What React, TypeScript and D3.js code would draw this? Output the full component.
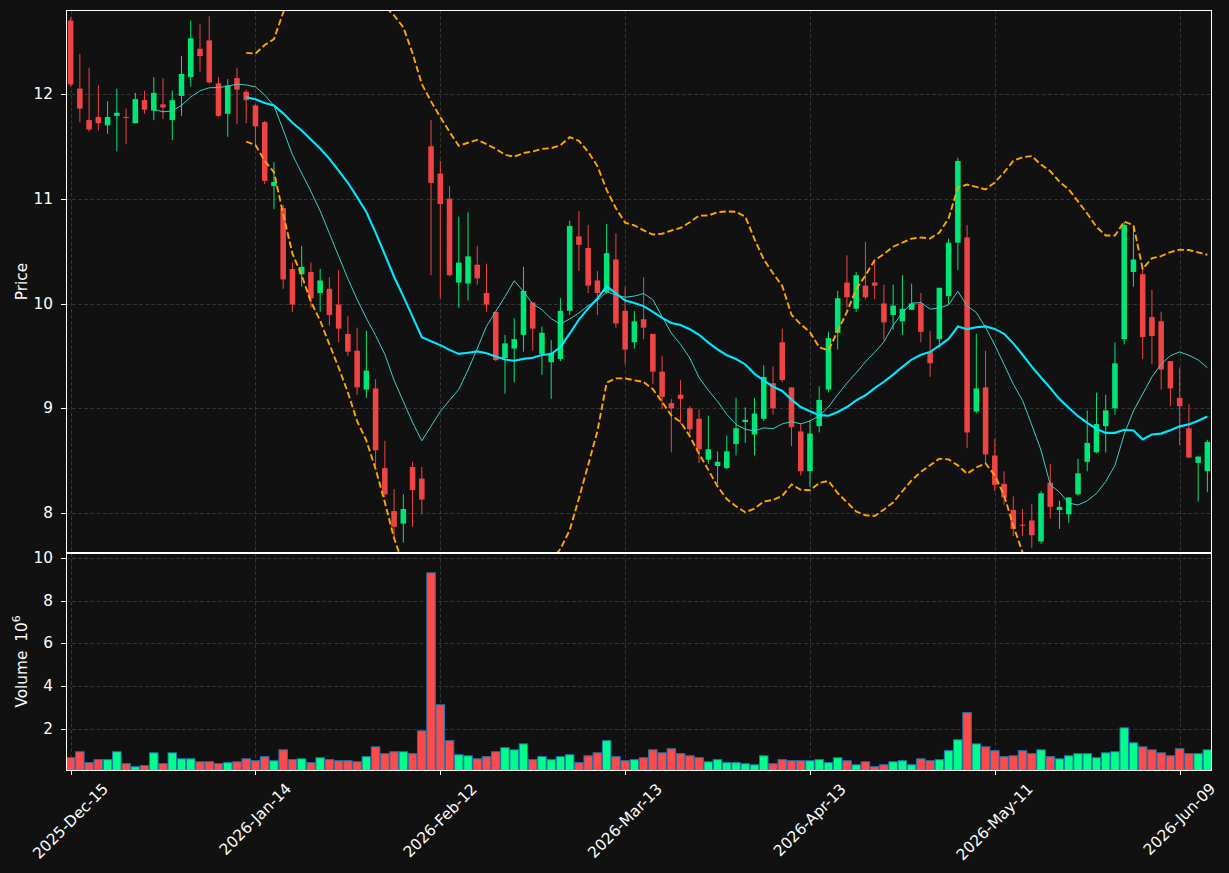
import React from "react";
import * as d3 from "d3";

// ---------- data ----------
const OPEN = [12.70,12.05,11.75,11.78,11.70,11.79,11.78,11.72,11.94,11.84,11.90,11.75,11.98,12.16,12.43,12.51,12.10,11.81,12.15,12.02,
11.89,11.73,11.12,10.91,10.33,10.28,10.30,10.10,10.14,9.99,9.71,9.55,9.18,9.19,8.43,8.02,7.90,8.44,8.33,11.50,
11.24,11.00,10.20,10.19,10.37,10.10,9.92,9.48,9.57,9.70,10.01,9.52,9.44,9.47,9.93,10.64,10.53,10.22,10.11,10.42,
9.93,9.63,9.85,9.71,9.35,9.05,9.13,9.00,8.90,8.51,8.45,8.43,8.66,8.87,8.75,8.90,9.24,9.63,9.20,8.78,
8.40,8.83,9.18,9.72,10.20,9.95,10.17,10.20,10.00,9.89,9.83,9.94,10.00,9.54,9.66,10.07,10.58,10.63,8.97,9.20,
8.55,8.28,8.03,7.89,7.93,7.73,8.29,8.03,7.99,8.18,8.49,8.58,8.83,9.00,9.66,10.30,10.28,9.87,9.83,9.45,
9.10,8.81,8.48,8.40];
const HIGH = [12.73,12.38,12.25,12.08,11.93,12.05,11.86,12.01,12.03,12.16,12.15,12.03,12.36,12.70,12.67,12.74,12.16,12.14,12.25,12.04,
11.90,11.74,11.35,10.94,10.39,10.55,10.39,10.33,10.25,10.32,9.88,9.77,9.74,9.28,8.69,8.23,8.18,8.49,8.44,11.75,
11.36,11.12,10.83,10.87,10.55,10.38,9.93,9.70,9.86,10.35,10.01,9.78,9.65,10.05,10.79,10.88,10.75,10.31,10.76,10.67,
10.16,9.93,10.25,9.71,9.50,9.09,9.27,9.02,8.99,8.93,8.59,8.74,9.10,9.01,9.10,9.41,9.40,9.76,9.20,8.86,
8.89,9.21,9.73,10.12,10.46,10.30,10.59,10.40,10.18,10.18,10.27,10.19,10.10,9.74,10.15,10.62,11.39,10.75,9.71,9.55,
8.71,8.40,8.16,8.04,8.09,8.21,8.47,8.12,8.15,8.52,8.98,9.15,9.13,9.63,10.78,10.73,10.31,10.13,9.92,9.45,
9.39,9.04,8.54,8.70];
const LOW = [12.07,11.73,11.64,11.65,11.62,11.45,11.52,11.72,11.81,11.75,11.76,11.56,11.79,12.07,12.21,12.10,11.78,11.59,11.71,11.72,
11.50,11.14,10.90,10.14,9.92,10.16,9.96,9.92,9.79,9.63,9.50,9.13,9.10,8.45,8.15,7.77,7.72,7.87,7.99,10.27,
10.05,10.26,9.96,10.03,10.18,9.92,9.45,9.14,9.25,9.54,9.55,9.32,9.09,9.45,9.89,10.31,10.10,9.89,10.09,9.77,
9.42,9.57,9.66,9.23,8.99,8.58,8.85,8.75,8.48,8.47,8.28,8.42,8.55,8.67,8.55,8.88,8.94,9.25,8.64,8.36,
8.25,8.77,9.15,9.56,9.96,9.92,10.04,10.04,9.65,9.75,9.70,9.94,9.63,9.30,9.58,9.99,10.32,8.62,8.95,8.47,
8.21,8.08,7.78,7.78,7.67,7.71,7.95,7.85,7.91,8.17,8.40,8.57,8.58,8.94,9.61,10.16,9.47,9.42,9.18,9.02,
8.65,8.53,8.11,8.20];
const CLOSE = [12.09,11.86,11.66,11.72,11.78,11.82,11.77,11.95,11.85,12.01,11.87,11.94,12.19,12.53,12.36,12.11,11.79,12.08,12.04,11.94,
11.69,11.17,11.16,10.23,9.99,10.35,10.05,10.22,9.89,9.76,9.54,9.20,9.36,8.60,8.18,7.87,8.04,8.22,8.13,11.15,
10.95,10.27,10.39,10.45,10.24,9.99,9.46,9.62,9.66,10.12,9.76,9.72,9.53,9.93,10.74,10.56,10.17,10.10,10.48,9.81,
9.56,9.83,9.77,9.35,9.11,9.00,9.09,8.80,8.61,8.61,8.49,8.59,8.81,8.89,8.95,9.30,9.00,9.27,8.82,8.40,
8.76,9.08,9.67,10.05,10.06,10.27,10.06,10.17,9.82,9.98,9.95,10.00,9.73,9.43,10.15,10.58,11.36,8.77,9.19,8.56,
8.27,8.15,7.85,7.88,7.79,8.19,8.06,8.06,8.15,8.38,8.67,8.85,8.98,9.43,10.75,10.42,9.68,9.69,9.37,9.19,
9.02,8.53,8.54,8.68];
const VOLUME = [0.64,0.92,0.41,0.55,0.55,0.92,0.36,0.22,0.27,0.87,0.36,0.87,0.59,0.59,0.45,0.45,0.36,0.41,0.45,0.59,
0.50,0.69,0.50,1.01,0.55,0.59,0.41,0.64,0.55,0.50,0.50,0.45,0.69,1.15,0.83,0.92,0.92,0.83,1.90,9.30,
3.12,1.44,0.78,0.73,0.59,0.69,0.92,1.11,1.01,1.29,0.55,0.69,0.55,0.69,0.78,0.41,0.73,0.87,1.44,0.69,
0.50,0.55,0.64,1.01,0.87,1.06,0.83,0.73,0.64,0.45,0.55,0.41,0.41,0.36,0.31,0.73,0.36,0.55,0.50,0.50,
0.50,0.55,0.41,0.64,0.50,0.31,0.45,0.22,0.31,0.45,0.50,0.31,0.59,0.50,0.55,0.97,1.48,2.75,1.29,1.15,
0.97,0.69,0.73,0.97,0.83,1.01,0.69,0.59,0.73,0.83,0.83,0.64,0.87,0.92,2.04,1.34,1.15,1.01,0.87,0.73,
1.06,0.83,0.83,1.01]; // millions

const X_TICK_INDEX = [0, 20, 40, 60, 80, 100, 120];
const X_TICK_LABELS = ["2025-Dec-15", "2026-Jan-14", "2026-Feb-12", "2026-Mar-13", "2026-Apr-13", "2026-May-11", "2026-Jun-09"];
const PRICE_TICKS = [8, 9, 10, 11, 12];
const VOLUME_TICKS = [2, 4, 6, 8, 10];
const PRICE_RANGE = [7.62, 12.8];
const MA_SHORT = 10;
const MA_LONG = 20;

// ---------- layout ----------
const W = 1229, H = 873;
const L = 66, R = 1212;
const PT = 10, PB = 553, VT = 553, VB = 770;
const BG = "#111111";
const UP = "#00e676", DOWN = "#ef4444";
const VUP = "#00ff88", VDOWN = "#ff4a4a";
const FONT = "DejaVu Sans, sans-serif";
const FS = 15.3;

function rolling(arr: number[], n: number, fn: (w: number[]) => number): (number | null)[] {
  return arr.map((_, i) => (i < n - 1 ? null : fn(arr.slice(i - n + 1, i + 1))));
}
const mean = (w: number[]) => d3.mean(w) as number;
const pstd = (w: number[]) => {
  const m = mean(w);
  return Math.sqrt(d3.sum(w, (v) => (v - m) * (v - m)) / w.length);
};

const CW: Record<string, number> = {
  "0": 0.636, "1": 0.636, "2": 0.636, "3": 0.636, "4": 0.636, "5": 0.636, "6": 0.636, "7": 0.636, "8": 0.636, "9": 0.636,
  "-": 0.361, D: 0.77, e: 0.615, c: 0.55, J: 0.295, a: 0.613, n: 0.634, F: 0.575, b: 0.635, M: 0.863, r: 0.411,
  A: 0.684, p: 0.635, y: 0.592, u: 0.634,
};
const textLen = (s: string, fs: number) => s.split("").reduce((a, ch) => a + (CW[ch] ?? 0.6), 0) * fs;

export default function App() {
  const n = CLOSE.length;
  const x = d3.scaleLinear().domain([-0.5, n - 0.5]).range([L, R]);
  const step = x(1) - x(0);
  const y = d3.scaleLinear().domain(PRICE_RANGE).range([PB, PT]);
  const vmin = 0.3 * (d3.min(VOLUME) as number);
  const vmax = 1.1 * (d3.max(VOLUME) as number);
  const yv = d3.scaleLinear().domain([vmin, vmax]).range([VB, VT]);

  const maS = rolling(CLOSE, MA_SHORT, mean);
  const maL = rolling(CLOSE, MA_LONG, mean);
  const sd = rolling(CLOSE, MA_LONG, pstd);
  const upper = maL.map((m, i) => (m == null ? null : m + 2 * (sd[i] as number)));
  const lower = maL.map((m, i) => (m == null ? null : m - 2 * (sd[i] as number)));

  const line = d3
    .line<number | null>()
    .defined((d) => d != null)
    .x((_, i) => x(i))
    .y((d) => y(d as number));

  const bodyW = step * 0.6;
  const barW = step * 0.92;

  React.useEffect(() => {
    document.body.style.margin = "0";
    document.body.style.background = BG;
  }, []);

  const gridStyle = { stroke: "#3a3a3a", strokeWidth: 0.9, strokeDasharray: "3.7,2.4" };
  const px = (v: number) => Math.round(v) + 0.5;

  return (
    <svg width={W} height={H} style={{ display: "block", background: BG, position: "absolute", left: 0, top: 0 }} fontFamily={FONT}>
      <defs>
        <clipPath id="clipP"><rect x={L} y={PT} width={R - L} height={PB - PT} /></clipPath>
        <clipPath id="clipV"><rect x={L} y={VT} width={R - L} height={VB - VT} /></clipPath>
      </defs>
      <rect x={0} y={0} width={W} height={H} fill={BG} />

      {/* grid */}
      <g>
        {X_TICK_INDEX.map((t) => (
          <g key={"gx" + t}>
            <line x1={px(x(t))} x2={px(x(t))} y1={PT} y2={PB} {...gridStyle} />
            <line x1={px(x(t))} x2={px(x(t))} y1={VT} y2={VB} {...gridStyle} />
          </g>
        ))}
        {PRICE_TICKS.map((t) => (
          <line key={"gp" + t} x1={L} x2={R} y1={px(y(t))} y2={px(y(t))} {...gridStyle} />
        ))}
        {VOLUME_TICKS.map((t) => (
          <line key={"gv" + t} x1={L} x2={R} y1={px(yv(t))} y2={px(yv(t))} {...gridStyle} />
        ))}
      </g>

      {/* candles */}
      <g clipPath="url(#clipP)">
        {CLOSE.map((c, i) => {
          const o = OPEN[i];
          const col = c >= o ? UP : DOWN;
          const top = y(Math.max(o, c));
          const bot = y(Math.min(o, c));
          return (
            <g key={"c" + i}>
              <line x1={x(i)} x2={x(i)} y1={y(HIGH[i])} y2={y(LOW[i])} stroke={col} strokeWidth={1} />
              <rect x={x(i) - bodyW / 2} y={top} width={bodyW} height={Math.max(1, bot - top)} fill={col} />
            </g>
          );
        })}
        <path d={line(upper) || ""} fill="none" stroke="#ffa500" strokeWidth={1.9} strokeDasharray="6.5,3" />
        <path d={line(lower) || ""} fill="none" stroke="#ffa500" strokeWidth={1.9} strokeDasharray="6.5,3" />
        <path d={line(maS) || ""} fill="none" stroke="#3ccfc4" strokeWidth={1} />
        <path d={line(maL) || ""} fill="none" stroke="#00e8ff" strokeWidth={2.1} />
      </g>

      {/* volume */}
      <g clipPath="url(#clipV)">
        {VOLUME.map((v, i) => {
          const col = CLOSE[i] >= OPEN[i] ? VUP : VDOWN;
          return (
            <rect key={"v" + i} x={x(i) - barW / 2} y={yv(v)} width={barW} height={VB - yv(v) + 2}
              fill={col} stroke="#1f77b4" strokeWidth={1} />
          );
        })}
      </g>

      {/* spines */}
      <rect x={L + 0.5} y={PT + 0.5} width={R - L - 1} height={PB - PT - 1} fill="none" stroke="#ffffff" strokeWidth={1} />
      <rect x={L + 0.5} y={VT + 0.5} width={R - L - 1} height={VB - VT} fill="none" stroke="#ffffff" strokeWidth={1} />

      {/* y ticks */}
      {PRICE_TICKS.map((t) => (
        <g key={"tp" + t}>
          <line x1={L - 5} x2={L} y1={px(y(t))} y2={px(y(t))} stroke="#fff" strokeWidth={1} />
          <text x={L - 13} y={y(t)} fill="#fff" fontSize={FS} textAnchor="end" dominantBaseline="central">{t}</text>
        </g>
      ))}
      {VOLUME_TICKS.map((t) => (
        <g key={"tv" + t}>
          <line x1={L - 5} x2={L} y1={px(yv(t))} y2={px(yv(t))} stroke="#fff" strokeWidth={1} />
          <text x={L - 13} y={yv(t)} fill="#fff" fontSize={FS} textAnchor="end" dominantBaseline="central">{t}</text>
        </g>
      ))}

      {/* x ticks */}
      {X_TICK_INDEX.map((t, k) => {
        const lab = X_TICK_LABELS[k];
        const len = textLen(lab, FS);
        const hgt = FS * 1.16;
        const cy = VB + 10 + ((len + hgt) * Math.SQRT1_2) / 2;
        return (
          <g key={"tx" + t}>
            <line x1={px(x(t))} x2={px(x(t))} y1={VB} y2={VB + 5} stroke="#fff" strokeWidth={1} />
            <text x={x(t)} y={cy} fill="#fff" fontSize={FS} textAnchor="middle" dominantBaseline="central"
              transform={`rotate(-45 ${x(t)} ${cy})`}>{lab}</text>
          </g>
        );
      })}

      {/* axis labels */}
      <text x={22} y={(PT + PB) / 2} fill="#fff" fontSize={FS} textAnchor="middle" dominantBaseline="central"
        transform={`rotate(-90 22 ${(PT + PB) / 2})`}>Price</text>
      <text x={22} y={(VT + VB) / 2} fill="#fff" fontSize={FS} textAnchor="middle" dominantBaseline="central"
        transform={`rotate(-90 22 ${(VT + VB) / 2})`}>
        Volume<tspan dx={9}>10</tspan><tspan fontSize={FS * 0.7} dy={-6}>6</tspan>
      </text>
    </svg>
  );
}
